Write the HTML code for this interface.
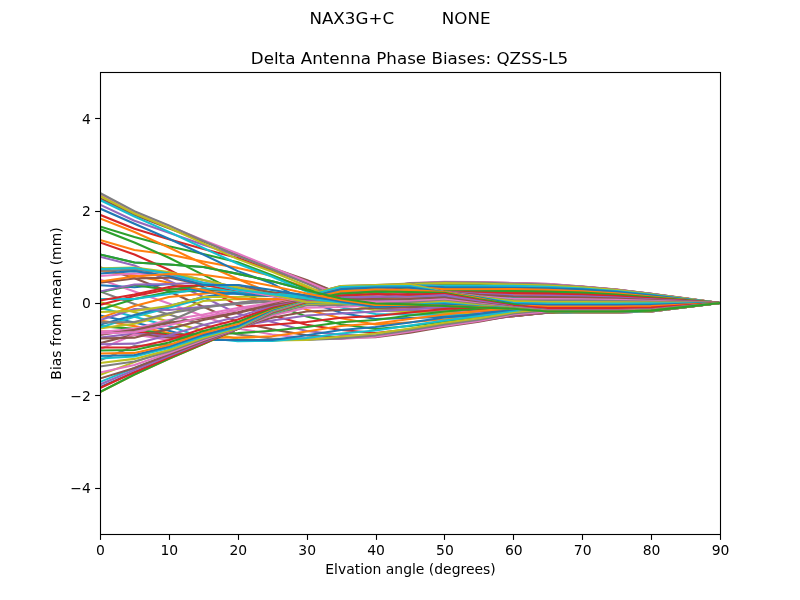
<!DOCTYPE html>
<html><head><meta charset="utf-8"><title>Delta Antenna Phase Biases</title>
<style>
html,body{margin:0;padding:0;background:#fff;}
svg{display:block;}
text{font-family:"DejaVu Sans","Liberation Sans",sans-serif;fill:#000;}
.t12{font-size:16.72px;}
.t10{font-size:13.93px;}
.ln{fill:none;stroke-width:2.083;stroke-linecap:square;stroke-linejoin:round;}
.tk{stroke:#000;stroke-width:1.111;}
</style></head>
<body>
<svg width="800" height="600" viewBox="0 0 800 600">
<rect width="800" height="600" fill="#fff"/>
<defs><clipPath id="c"><rect x="100.0" y="72.0" width="620.0" height="462.0"/></clipPath></defs>
<g clip-path="url(#c)">
<polyline class="ln" stroke="#1f77b4" points="100.00,254.49 134.44,262.48 168.89,264.52 203.33,266.96 237.78,273.89 272.22,281.29 306.67,290.29 341.11,298.52 375.56,303.46 410.00,304.39 444.44,306.00 478.89,307.48 513.33,308.73 547.78,311.55 582.22,311.55 616.67,311.55 651.11,310.61 685.56,306.85 720.00,303.00"/>
<polyline class="ln" stroke="#ff7f0e" points="100.00,239.98 134.44,250.01 168.89,254.49 203.33,261.42 237.78,267.89 272.22,276.02 306.67,287.52 341.11,296.82 375.56,303.79 410.00,305.00 444.44,306.50 478.89,308.17 513.33,309.59 547.78,311.75 582.22,311.84 616.67,311.84 651.11,310.87 685.56,306.98 720.00,303.00"/>
<polyline class="ln" stroke="#2ca02c" points="100.00,226.49 134.44,236.93 168.89,246.17 203.33,254.03 237.78,262.34 272.22,275.28 306.67,289.14 341.11,297.46 375.56,304.39 410.00,305.78 444.44,307.16 478.89,309.19 513.33,310.85 547.78,312.15 582.22,312.24 616.67,312.24 651.11,311.22 685.56,307.16 720.00,303.00"/>
<polyline class="ln" stroke="#d62728" points="100.00,214.76 134.44,228.80 168.89,239.24 203.33,248.95 237.78,257.96 272.22,270.43 306.67,282.67 341.11,294.31 375.56,305.02 410.00,306.63 444.44,307.81 478.89,310.08 513.33,311.79 547.78,312.24 582.22,312.43 616.67,312.43 651.11,311.39 685.56,307.24 720.00,303.00"/>
<polyline class="ln" stroke="#9467bd" points="100.00,204.59 134.44,220.81 168.89,232.78 203.33,244.79 237.78,255.88 272.22,268.81 306.67,281.29 341.11,293.76 375.56,305.77 410.00,307.36 444.44,308.54 478.89,311.04 513.33,312.70 547.78,312.24 582.22,312.52 616.67,312.52 651.11,311.47 685.56,307.28 720.00,303.00"/>
<polyline class="ln" stroke="#8c564b" points="100.00,198.13 134.44,214.99 168.89,228.16 203.33,241.55 237.78,254.49 272.22,267.89 306.67,279.99 341.11,294.17 375.56,306.62 410.00,308.21 444.44,309.39 478.89,311.97 513.33,313.70 547.78,312.50 582.22,312.52 616.67,312.52 651.11,311.47 685.56,307.28 720.00,303.00"/>
<polyline class="ln" stroke="#e377c2" points="100.00,194.43 134.44,211.99 168.89,225.85 203.33,240.17 237.78,253.57 272.22,267.52 306.67,281.52 341.11,296.07 375.56,307.62 410.00,309.22 444.44,310.39 478.89,312.89 513.33,314.55 547.78,312.68 582.22,312.52 616.67,312.52 651.11,311.47 685.56,307.28 720.00,303.00"/>
<polyline class="ln" stroke="#7f7f7f" points="100.00,193.04 134.44,211.20 168.89,225.38 203.33,240.86 237.78,255.88 272.22,269.27 306.67,283.60 341.11,298.76 375.56,308.76 410.00,310.47 444.44,311.66 478.89,313.77 513.33,315.09 547.78,312.66 582.22,312.42 616.67,312.42 651.11,311.39 685.56,307.24 720.00,303.00"/>
<polyline class="ln" stroke="#bcbd22" points="100.00,196.00 134.44,213.51 168.89,227.69 203.33,243.40 237.78,259.11 272.22,271.81 306.67,286.00 341.11,301.87 375.56,310.39 410.00,312.09 444.44,313.16 478.89,314.63 513.33,315.47 547.78,312.52 582.22,312.24 616.67,312.24 651.11,311.22 685.56,307.16 720.00,303.00"/>
<polyline class="ln" stroke="#17becf" points="100.00,199.97 134.44,216.51 168.89,231.85 203.33,248.02 237.78,263.73 272.22,276.67 306.67,291.45 341.11,307.48 375.56,314.00 410.00,314.55 444.44,314.89 478.89,315.43 513.33,315.74 547.78,312.81 582.22,312.04 616.67,312.04 651.11,311.05 685.56,307.07 720.00,303.00"/>
<polyline class="ln" stroke="#1f77b4" points="100.00,208.52 134.44,223.81 168.89,238.78 203.33,254.49 237.78,271.12 272.22,283.60 306.67,301.61 341.11,312.79 375.56,318.99 410.00,318.08 444.44,316.86 478.89,316.43 513.33,315.94 547.78,312.83 582.22,311.78 616.67,311.78 651.11,310.81 685.56,306.95 720.00,303.00"/>
<polyline class="ln" stroke="#ff7f0e" points="100.00,218.45 134.44,231.99 168.89,247.56 203.33,263.73 237.78,278.98 272.22,293.76 306.67,309.70 341.11,318.25 375.56,324.48 410.00,322.31 444.44,319.17 478.89,317.61 513.33,316.09 547.78,312.69 582.22,311.38 616.67,311.38 651.11,310.46 685.56,306.77 720.00,303.00"/>
<polyline class="ln" stroke="#2ca02c" points="100.00,229.08 134.44,242.48 168.89,257.72 203.33,274.82 237.78,292.14 272.22,304.39 306.67,316.40 341.11,324.21 375.56,329.01 410.00,326.02 444.44,321.48 478.89,318.71 513.33,316.17 547.78,312.52 582.22,310.85 616.67,310.85 651.11,309.99 685.56,306.53 720.00,303.00"/>
<polyline class="ln" stroke="#d62728" points="100.00,242.48 134.44,254.49 168.89,269.74 203.33,287.29 237.78,305.31 272.22,315.61 306.67,324.71 341.11,329.98 375.56,333.03 410.00,329.27 444.44,323.44 478.89,319.87 513.33,316.10 547.78,312.54 582.22,310.22 616.67,310.22 651.11,309.43 685.56,306.25 720.00,303.00"/>
<polyline class="ln" stroke="#9467bd" points="100.00,256.80 134.44,265.49 168.89,280.82 203.33,296.99 237.78,313.63 272.22,321.94 306.67,331.00 341.11,334.88 375.56,335.80 410.00,331.41 444.44,325.18 478.89,320.92 513.33,315.94 547.78,312.47 582.22,309.47 616.67,309.47 651.11,308.76 685.56,305.91 720.00,303.00"/>
<polyline class="ln" stroke="#8c564b" points="100.00,267.19 134.44,278.28 168.89,291.45 203.33,306.70 237.78,321.94 272.22,329.38 306.67,335.34 341.11,337.65 375.56,337.19 410.00,332.65 444.44,326.65 478.89,321.71 513.33,315.41 547.78,312.18 582.22,308.58 616.67,308.58 651.11,307.96 685.56,305.51 720.00,303.00"/>
<polyline class="ln" stroke="#e377c2" points="100.00,279.44 134.44,291.45 168.89,303.46 203.33,315.94 237.78,328.41 272.22,334.42 306.67,338.11 341.11,339.04 375.56,336.73 410.00,331.51 444.44,326.01 478.89,321.02 513.33,314.55 547.78,311.78 582.22,307.62 616.67,307.62 651.11,307.11 685.56,305.08 720.00,303.00"/>
<polyline class="ln" stroke="#7f7f7f" points="100.00,291.45 134.44,303.92 168.89,314.55 203.33,324.71 237.78,334.42 272.22,338.57 306.67,339.96 341.11,338.57 375.56,335.34 410.00,330.26 444.44,324.48 478.89,319.63 513.33,313.49 547.78,310.23 582.22,306.70 616.67,306.70 651.11,306.29 685.56,304.66 720.00,303.00"/>
<polyline class="ln" stroke="#bcbd22" points="100.00,302.08 134.44,312.24 168.89,321.48 203.33,330.72 237.78,339.04 272.22,340.42 306.67,339.96 341.11,336.50 375.56,333.49 410.00,328.50 444.44,322.77 478.89,318.25 513.33,312.24 547.78,308.60 582.22,305.77 616.67,305.77 651.11,305.47 685.56,304.25 720.00,303.00"/>
<polyline class="ln" stroke="#17becf" points="100.00,307.62 134.44,316.86 168.89,326.10 203.33,337.65 237.78,341.25 272.22,340.88 306.67,338.02 341.11,333.49 375.56,330.49 410.00,325.50 444.44,320.51 478.89,315.94 513.33,310.89 547.78,306.94 582.22,304.85 616.67,304.85 651.11,304.64 685.56,303.83 720.00,303.00"/>
<polyline class="ln" stroke="#1f77b4" points="100.00,315.47 134.44,322.40 168.89,330.72 203.33,339.96 237.78,339.96 272.22,339.96 306.67,335.34 341.11,329.98 375.56,327.02 410.00,322.50 444.44,317.51 478.89,313.86 513.33,309.47 547.78,305.88 582.22,303.92 616.67,303.92 651.11,303.82 685.56,303.42 720.00,303.00"/>
<polyline class="ln" stroke="#ff7f0e" points="100.00,320.56 134.44,326.10 168.89,333.03 203.33,337.65 237.78,337.51 272.22,336.26 306.67,331.51 341.11,326.01 375.56,323.51 410.00,318.99 444.44,314.50 478.89,310.99 513.33,308.08 547.78,304.84 582.22,303.01 616.67,303.01 651.11,303.01 685.56,303.00 720.00,303.00"/>
<polyline class="ln" stroke="#2ca02c" points="100.00,326.10 134.44,328.87 168.89,334.42 203.33,334.42 237.78,333.12 272.22,330.72 306.67,327.02 341.11,322.22 375.56,320.00 410.00,315.47 444.44,311.50 478.89,308.54 513.33,306.70 547.78,303.84 582.22,302.16 616.67,302.31 651.11,302.53 685.56,302.76 720.00,303.00"/>
<polyline class="ln" stroke="#d62728" points="100.00,331.64 134.44,331.64 168.89,335.34 203.33,334.42 237.78,327.25 272.22,324.71 306.67,321.94 341.11,317.78 375.56,315.94 410.00,312.52 444.44,309.01 478.89,306.79 513.33,305.31 547.78,302.82 582.22,301.29 616.67,301.60 651.11,302.04 685.56,302.52 720.00,303.00"/>
<polyline class="ln" stroke="#9467bd" points="100.00,337.65 134.44,333.49 168.89,336.26 203.33,336.26 237.78,326.10 272.22,320.56 306.67,315.47 341.11,313.49 375.56,311.50 410.00,309.47 444.44,306.70 478.89,305.14 513.33,303.92 547.78,301.77 582.22,300.39 616.67,300.87 651.11,301.54 685.56,302.27 720.00,303.00"/>
<polyline class="ln" stroke="#8c564b" points="100.00,343.19 134.44,334.42 168.89,337.65 203.33,338.11 237.78,327.02 272.22,317.78 306.67,311.50 341.11,309.93 375.56,307.99 410.00,307.16 444.44,304.79 478.89,303.66 513.33,302.54 547.78,300.67 582.22,299.45 616.67,300.10 651.11,301.01 685.56,302.01 720.00,303.00"/>
<polyline class="ln" stroke="#e377c2" points="100.00,349.20 134.44,334.42 168.89,339.96 203.33,339.50 237.78,327.95 272.22,315.47 306.67,307.62 341.11,307.02 375.56,305.31 410.00,304.69 444.44,303.00 478.89,302.09 513.33,301.15 547.78,299.54 582.22,298.47 616.67,299.29 651.11,300.46 685.56,301.73 720.00,303.00"/>
<polyline class="ln" stroke="#7f7f7f" points="100.00,360.29 134.44,345.97 168.89,344.58 203.33,340.88 237.78,328.41 272.22,314.09 306.67,305.31 341.11,304.85 375.56,303.48 410.00,302.52 444.44,301.09 478.89,300.43 513.33,299.77 547.78,298.41 582.22,297.47 616.67,298.48 651.11,299.91 685.56,301.45 720.00,303.00"/>
<polyline class="ln" stroke="#bcbd22" points="100.00,374.98 134.44,362.14 168.89,350.12 203.33,341.81 237.78,328.87 272.22,313.16 306.67,303.92 341.11,303.30 375.56,302.08 410.00,300.59 444.44,299.30 478.89,298.82 513.33,298.38 547.78,297.28 582.22,296.49 616.67,297.67 651.11,299.35 685.56,301.18 720.00,303.00"/>
<polyline class="ln" stroke="#17becf" points="100.00,382.00 134.44,368.00 168.89,354.74 203.33,342.73 237.78,328.87 272.22,312.89 306.67,303.28 341.11,302.28 375.56,300.98 410.00,299.20 444.44,297.77 478.89,297.34 513.33,296.97 547.78,296.10 582.22,295.49 616.67,296.85 651.11,298.79 685.56,300.90 720.00,303.00"/>
<polyline class="ln" stroke="#1f77b4" points="100.00,387.08 134.44,372.30 168.89,357.98 203.33,343.19 237.78,328.87 272.22,312.70 306.67,302.81 341.11,301.43 375.56,300.05 410.00,297.98 444.44,296.36 478.89,295.90 513.33,295.55 547.78,294.89 582.22,294.47 616.67,296.02 651.11,298.22 685.56,300.61 720.00,303.00"/>
<polyline class="ln" stroke="#ff7f0e" points="100.00,392.17 134.44,374.61 168.89,358.90 203.33,343.98 237.78,328.87 272.22,312.47 306.67,302.44 341.11,300.83 375.56,299.22 410.00,296.85 444.44,295.03 478.89,294.50 513.33,294.15 547.78,293.72 582.22,293.49 616.67,295.22 651.11,297.67 685.56,300.34 720.00,303.00"/>
<polyline class="ln" stroke="#2ca02c" points="100.00,391.98 134.44,374.52 168.89,358.90 203.33,343.98 237.78,328.87 272.22,312.24 306.67,302.08 341.11,300.23 375.56,298.38 410.00,295.75 444.44,293.76 478.89,293.16 513.33,292.84 547.78,292.66 582.22,292.58 616.67,294.47 651.11,297.16 685.56,300.08 720.00,303.00"/>
<polyline class="ln" stroke="#d62728" points="100.00,388.01 134.44,372.21 168.89,357.52 203.33,343.19 237.78,328.87 272.22,312.00 306.67,301.70 341.11,299.62 375.56,297.53 410.00,294.65 444.44,292.52 478.89,291.86 513.33,291.58 547.78,291.62 582.22,291.72 616.67,293.78 651.11,296.69 685.56,299.84 720.00,303.00"/>
<polyline class="ln" stroke="#9467bd" points="100.00,384.50 134.44,369.99 168.89,355.99 203.33,342.27 237.78,328.87 272.22,311.78 306.67,301.36 341.11,299.03 375.56,296.70 410.00,293.60 444.44,291.33 478.89,290.65 513.33,290.37 547.78,290.51 582.22,290.91 616.67,293.11 651.11,296.23 685.56,299.61 720.00,303.00"/>
<polyline class="ln" stroke="#8c564b" points="100.00,378.49 134.44,368.00 168.89,354.51 203.33,341.35 237.78,328.70 272.22,311.58 306.67,301.03 341.11,298.47 375.56,295.91 410.00,292.59 444.44,290.20 478.89,289.51 513.33,289.24 547.78,289.49 582.22,290.16 616.67,292.50 651.11,295.81 685.56,299.41 720.00,303.00"/>
<polyline class="ln" stroke="#e377c2" points="100.00,372.48 134.44,365.00 168.89,352.90 203.33,339.96 237.78,328.41 272.22,311.32 306.67,300.69 341.11,297.92 375.56,295.15 410.00,291.62 444.44,289.14 478.89,288.48 513.33,288.22 547.78,288.60 582.22,289.54 616.67,291.99 651.11,295.46 685.56,299.23 720.00,303.00"/>
<polyline class="ln" stroke="#7f7f7f" points="100.00,366.48 134.44,361.49 168.89,351.51 203.33,339.04 237.78,328.22 272.22,310.88 306.67,300.33 341.11,297.37 375.56,294.41 410.00,290.70 444.44,288.13 478.89,287.52 513.33,287.29 547.78,287.81 582.22,289.02 616.67,291.56 651.11,295.17 685.56,299.08 720.00,303.00"/>
<polyline class="ln" stroke="#bcbd22" points="100.00,363.06 134.44,358.90 168.89,349.99 203.33,337.65 237.78,327.95 272.22,310.39 306.67,299.96 341.11,296.83 375.56,293.70 410.00,289.81 444.44,287.17 478.89,286.63 513.33,286.42 547.78,287.09 582.22,288.56 616.67,291.19 651.11,294.91 685.56,298.96 720.00,303.00"/>
<polyline class="ln" stroke="#17becf" points="100.00,358.44 134.44,356.50 168.89,348.00 203.33,336.26 237.78,327.02 272.22,309.92 306.67,299.61 341.11,296.32 375.56,293.02 410.00,288.96 444.44,286.27 478.89,285.81 513.33,285.64 547.78,286.45 582.22,288.16 616.67,290.86 651.11,294.69 685.56,298.84 720.00,303.00"/>
<polyline class="ln" stroke="#1f77b4" points="100.00,355.99 134.44,355.02 168.89,346.43 203.33,334.88 237.78,326.10 272.22,309.47 306.67,299.30 341.11,295.84 375.56,292.37 410.00,288.15 444.44,285.44 478.89,285.10 513.33,284.98 547.78,285.91 582.22,287.80 616.67,290.57 651.11,294.49 685.56,298.74 720.00,303.00"/>
<polyline class="ln" stroke="#ff7f0e" points="100.00,353.50 134.44,352.90 168.89,345.04 203.33,333.03 237.78,324.02 272.22,308.77 306.67,299.06 341.11,295.41 375.56,291.75 410.00,287.37 444.44,284.66 478.89,284.45 513.33,284.38 547.78,285.41 582.22,287.47 616.67,290.30 651.11,294.30 685.56,298.65 720.00,303.00"/>
<polyline class="ln" stroke="#2ca02c" points="100.00,350.49 134.44,349.99 168.89,342.50 203.33,331.00 237.78,321.94 272.22,308.08 306.67,298.84 341.11,294.85 375.56,291.16 410.00,286.62 444.44,283.91 478.89,283.84 513.33,283.82 547.78,284.95 582.22,287.16 616.67,290.05 651.11,294.13 685.56,298.57 720.00,303.00"/>
<polyline class="ln" stroke="#d62728" points="100.00,347.49 134.44,347.49 168.89,339.96 203.33,328.50 237.78,319.49 272.22,306.98 306.67,298.63 341.11,294.30 375.56,290.60 410.00,285.95 444.44,283.23 478.89,283.27 513.33,283.38 547.78,284.61 582.22,286.90 616.67,289.83 651.11,293.99 685.56,298.49 720.00,303.00"/>
<polyline class="ln" stroke="#9467bd" points="100.00,344.21 134.44,343.66 168.89,335.34 203.33,324.99 237.78,316.86 272.22,305.77 306.67,298.38 341.11,293.76 375.56,290.06 410.00,284.93 444.44,282.67 478.89,282.72 513.33,283.13 547.78,284.25 582.22,286.71 616.67,289.68 651.11,293.88 685.56,298.44 720.00,303.00"/>
<polyline class="ln" stroke="#8c564b" points="100.00,338.57 134.44,337.65 168.89,328.87 203.33,320.00 237.78,312.98 272.22,304.65 306.67,298.07 341.11,293.07 375.56,289.56 410.00,283.96 444.44,282.16 478.89,282.25 513.33,283.04 547.78,284.00 582.22,286.57 616.67,289.56 651.11,293.80 685.56,298.40 720.00,303.00"/>
<polyline class="ln" stroke="#e377c2" points="100.00,332.11 134.44,328.87 168.89,320.09 203.33,314.55 237.78,308.08 272.22,303.00 306.67,297.72 341.11,292.36 375.56,289.08 410.00,283.13 444.44,281.89 478.89,281.98 513.33,283.00 547.78,283.78 582.22,286.50 616.67,289.50 651.11,293.76 685.56,298.38 720.00,303.00"/>
<polyline class="ln" stroke="#7f7f7f" points="100.00,333.95 134.44,330.72 168.89,321.48 203.33,306.51 237.78,303.92 272.22,301.35 306.67,297.35 341.11,291.66 375.56,288.63 410.00,283.37 444.44,282.21 478.89,282.50 513.33,283.60 547.78,284.46 582.22,286.71 616.67,289.68 651.11,293.88 685.56,298.44 720.00,303.00"/>
<polyline class="ln" stroke="#bcbd22" points="100.00,328.41 134.44,323.79 168.89,314.55 203.33,301.01 237.78,298.98 272.22,299.30 306.67,296.99 341.11,290.99 375.56,288.22 410.00,284.06 444.44,283.13 478.89,283.51 513.33,284.52 547.78,285.44 582.22,287.28 616.67,290.14 651.11,294.20 685.56,298.60 720.00,303.00"/>
<polyline class="ln" stroke="#17becf" points="100.00,327.49 134.44,316.86 168.89,307.62 203.33,298.38 237.78,292.51 272.22,295.45 306.67,296.63 341.11,290.39 375.56,287.84 410.00,285.21 444.44,285.68 478.89,285.74 513.33,285.91 547.78,286.78 582.22,288.45 616.67,291.10 651.11,294.85 685.56,298.93 720.00,303.00"/>
<polyline class="ln" stroke="#1f77b4" points="100.00,324.71 134.44,315.01 168.89,306.00 203.33,296.99 237.78,291.45 272.22,294.30 306.67,296.27 341.11,289.80 375.56,287.50 410.00,286.37 444.44,287.29 478.89,287.43 513.33,287.75 547.78,288.33 582.22,289.36 616.67,291.85 651.11,295.36 685.56,299.18 720.00,303.00"/>
<polyline class="ln" stroke="#ff7f0e" points="100.00,318.01 134.44,306.00 168.89,296.99 203.33,293.76 237.78,290.02 272.22,292.97 306.67,295.92 341.11,289.23 375.56,287.17 410.00,286.39 444.44,289.37 478.89,289.26 513.33,289.14 547.78,289.84 582.22,291.27 616.67,293.41 651.11,296.43 685.56,299.72 720.00,303.00"/>
<polyline class="ln" stroke="#2ca02c" points="100.00,309.47 134.44,298.98 168.89,291.91 203.33,290.53 237.78,289.14 272.22,292.37 306.67,295.61 341.11,288.68 375.56,286.83 410.00,286.37 444.44,291.45 478.89,291.22 513.33,290.99 547.78,291.52 582.22,292.66 616.67,294.55 651.11,297.21 685.56,300.11 720.00,303.00"/>
<polyline class="ln" stroke="#d62728" points="100.00,304.85 134.44,296.07 168.89,289.14 203.33,289.14 237.78,290.06 272.22,292.69 306.67,295.31 341.11,287.99 375.56,286.47 410.00,285.91 444.44,291.76 478.89,292.65 513.33,293.30 547.78,293.85 582.22,294.53 616.67,296.07 651.11,298.26 685.56,300.63 720.00,303.00"/>
<polyline class="ln" stroke="#9467bd" points="100.00,320.09 134.44,309.01 168.89,309.93 203.33,306.70 237.78,303.00 272.22,299.00 306.67,295.01 341.11,287.29 375.56,286.10 410.00,285.44 444.44,291.91 478.89,293.85 513.33,295.15 547.78,295.65 582.22,296.23 616.67,297.46 651.11,299.21 685.56,301.10 720.00,303.00"/>
<polyline class="ln" stroke="#8c564b" points="100.00,334.88 134.44,329.80 168.89,322.87 203.33,318.25 237.78,312.24 272.22,303.51 306.67,294.78 341.11,286.78 375.56,285.75 410.00,285.00 444.44,292.04 478.89,294.74 513.33,296.53 547.78,296.98 582.22,297.53 616.67,298.52 651.11,299.94 685.56,301.47 720.00,303.00"/>
<polyline class="ln" stroke="#e377c2" points="100.00,333.49 134.44,332.11 168.89,325.18 203.33,316.86 237.78,309.93 272.22,302.31 306.67,294.68 341.11,286.37 375.56,285.44 410.00,284.52 444.44,292.14 478.89,296.35 513.33,298.98 547.78,298.98 582.22,299.22 616.67,299.91 651.11,300.88 685.56,301.94 720.00,303.00"/>
<polyline class="ln" stroke="#7f7f7f" points="100.00,322.40 134.44,321.94 168.89,313.16 203.33,307.62 237.78,303.00 272.22,298.91 306.67,294.82 341.11,286.10 375.56,285.15 410.00,283.60 444.44,292.29 478.89,297.11 513.33,300.23 547.78,300.50 582.22,300.61 616.67,301.05 651.11,301.66 685.56,302.33 720.00,303.00"/>
<polyline class="ln" stroke="#bcbd22" points="100.00,312.01 134.44,310.85 168.89,306.00 203.33,296.99 237.78,296.99 272.22,296.07 306.67,295.15 341.11,286.00 375.56,284.98 410.00,284.06 444.44,292.37 478.89,297.13 513.33,301.15 547.78,301.98 582.22,302.04 616.67,302.22 651.11,302.46 685.56,302.73 720.00,303.00"/>
<polyline class="ln" stroke="#17becf" points="100.00,298.98 134.44,298.98 168.89,293.99 203.33,288.22 237.78,291.22 272.22,293.64 306.67,296.07 341.11,287.06 375.56,286.37 410.00,286.00 444.44,292.37 478.89,297.49 513.33,302.77 547.78,303.46 582.22,303.46 616.67,303.46 651.11,303.41 685.56,303.21 720.00,303.00"/>
<polyline class="ln" stroke="#1f77b4" points="100.00,285.21 134.44,287.29 168.89,284.06 203.33,291.91 237.78,293.99 272.22,296.19 306.67,298.38 341.11,289.14 375.56,287.52 410.00,287.52 444.44,292.37 478.89,297.46 513.33,303.92 547.78,304.99 582.22,304.99 616.67,304.99 651.11,304.77 685.56,303.89 720.00,303.00"/>
<polyline class="ln" stroke="#ff7f0e" points="100.00,270.66 134.44,275.51 168.89,282.67 203.33,290.06 237.78,298.98 272.22,299.14 306.67,299.30 341.11,291.31 375.56,289.51 410.00,290.06 444.44,292.14 478.89,298.38 513.33,305.31 547.78,306.51 582.22,306.51 616.67,306.51 651.11,306.12 685.56,304.58 720.00,303.00"/>
<polyline class="ln" stroke="#2ca02c" points="100.00,292.10 134.44,284.98 168.89,290.06 203.33,284.98 237.78,290.06 272.22,295.15 306.67,300.23 341.11,293.48 375.56,291.45 410.00,292.00 444.44,292.84 478.89,299.30 513.33,304.39 547.78,310.39 582.22,309.93 616.67,309.93 651.11,309.17 685.56,306.12 720.00,303.00"/>
<polyline class="ln" stroke="#d62728" points="100.00,300.51 134.44,294.50 168.89,287.01 203.33,284.98 237.78,290.06 272.22,295.40 306.67,300.73 341.11,295.79 375.56,293.99 410.00,294.50 444.44,293.76 478.89,300.23 513.33,305.77 547.78,307.99 582.22,307.99 616.67,307.99 651.11,307.44 685.56,305.25 720.00,303.00"/>
<polyline class="ln" stroke="#9467bd" points="100.00,291.45 134.44,284.52 168.89,284.06 203.33,282.67 237.78,287.52 272.22,294.34 306.67,301.15 341.11,297.46 375.56,296.81 410.00,296.81 444.44,295.15 478.89,301.15 513.33,306.70 547.78,309.93 582.22,309.93 616.67,309.93 651.11,309.17 685.56,306.12 720.00,303.00"/>
<polyline class="ln" stroke="#8c564b" points="100.00,282.67 134.44,278.51 168.89,277.59 203.33,284.98 237.78,284.98 272.22,293.36 306.67,301.73 341.11,299.30 375.56,299.49 410.00,298.98 444.44,297.46 478.89,302.54 513.33,307.24 547.78,310.50 582.22,310.52 616.67,310.52 651.11,309.69 685.56,306.38 720.00,303.00"/>
<polyline class="ln" stroke="#e377c2" points="100.00,276.02 134.44,273.43 168.89,275.28 203.33,282.67 237.78,290.06 272.22,296.07 306.67,302.08 341.11,300.69 375.56,301.61 410.00,301.15 444.44,299.30 478.89,303.46 513.33,307.62 547.78,310.85 582.22,310.85 616.67,310.85 651.11,309.99 685.56,306.53 720.00,303.00"/>
<polyline class="ln" stroke="#7f7f7f" points="100.00,270.66 134.44,269.74 168.89,272.97 203.33,279.90 237.78,287.52 272.22,294.80 306.67,302.08 341.11,302.23 375.56,303.92 410.00,302.54 444.44,300.69 478.89,304.39 513.33,307.87 547.78,311.11 582.22,311.12 616.67,311.12 651.11,310.23 685.56,306.66 720.00,303.00"/>
<polyline class="ln" stroke="#bcbd22" points="100.00,268.35 134.44,267.43 168.89,272.05 203.33,279.90 237.78,287.52 272.22,294.80 306.67,302.08 341.11,303.30 375.56,305.31 410.00,303.92 444.44,301.61 478.89,305.31 513.33,308.08 547.78,311.32 582.22,311.32 616.67,311.32 651.11,310.40 685.56,306.74 720.00,303.00"/>
<polyline class="ln" stroke="#17becf" points="100.00,269.00 134.44,267.98 168.89,273.43 203.33,282.67 237.78,289.83 272.22,294.11 306.67,298.38 341.11,302.53 375.56,306.70 410.00,304.85 444.44,303.00 478.89,306.23 513.33,308.34 547.78,311.47 582.22,311.47 616.67,311.47 651.11,310.54 685.56,306.81 720.00,303.00"/>
<polyline class="ln" stroke="#1f77b4" points="100.00,273.43 134.44,271.12 168.89,275.97 203.33,284.98 237.78,284.98 272.22,290.03 306.67,295.61 341.11,301.53 375.56,306.70 410.00,305.31 444.44,304.39 478.89,306.70 513.33,308.54 547.78,311.55 582.22,311.55 616.67,311.55 651.11,310.61 685.56,306.85 720.00,303.00"/>
<polyline class="ln" stroke="#ff7f0e" points="100.00,281.52 134.44,276.48 168.89,273.99 203.33,274.82 237.78,279.44 272.22,285.92 306.67,293.48 341.11,300.00 375.56,304.99 410.00,304.62 444.44,305.77 478.89,307.16 513.33,308.63 547.78,311.51 582.22,311.55 616.67,311.55 651.11,310.61 685.56,306.85 720.00,303.00"/>
<polyline class="ln" stroke="#2ca02c" points="100.00,254.49 134.44,262.48 168.89,264.52 203.33,266.96 237.78,273.89 272.22,281.29 306.67,290.29 341.11,298.52 375.56,303.46 410.00,304.39 444.44,306.00 478.89,307.48 513.33,308.73 547.78,311.55 582.22,311.55 616.67,311.55 651.11,310.61 685.56,306.85 720.00,303.00"/>
</g>
<rect x="100.50" y="72.50" width="620.00" height="462.00" fill="none" stroke="#000" stroke-width="1.111" shape-rendering="auto"/>
<line class="tk" x1="100.50" y1="534.50" x2="100.50" y2="539.90"/><text class="t10" text-anchor="middle" x="100.50" y="554.60">0</text>
<line class="tk" x1="169.50" y1="534.50" x2="169.50" y2="539.90"/><text class="t10" text-anchor="middle" x="169.39" y="554.60">10</text>
<line class="tk" x1="238.50" y1="534.50" x2="238.50" y2="539.90"/><text class="t10" text-anchor="middle" x="238.28" y="554.60">20</text>
<line class="tk" x1="307.50" y1="534.50" x2="307.50" y2="539.90"/><text class="t10" text-anchor="middle" x="307.17" y="554.60">30</text>
<line class="tk" x1="376.50" y1="534.50" x2="376.50" y2="539.90"/><text class="t10" text-anchor="middle" x="376.06" y="554.60">40</text>
<line class="tk" x1="444.50" y1="534.50" x2="444.50" y2="539.90"/><text class="t10" text-anchor="middle" x="444.94" y="554.60">50</text>
<line class="tk" x1="513.50" y1="534.50" x2="513.50" y2="539.90"/><text class="t10" text-anchor="middle" x="513.83" y="554.60">60</text>
<line class="tk" x1="582.50" y1="534.50" x2="582.50" y2="539.90"/><text class="t10" text-anchor="middle" x="582.72" y="554.60">70</text>
<line class="tk" x1="651.50" y1="534.50" x2="651.50" y2="539.90"/><text class="t10" text-anchor="middle" x="651.61" y="554.60">80</text>
<line class="tk" x1="720.50" y1="534.50" x2="720.50" y2="539.90"/><text class="t10" text-anchor="middle" x="720.50" y="554.60">90</text>
<line class="tk" x1="95.10" y1="488.50" x2="100.50" y2="488.50"/><text class="t10" text-anchor="end" x="90.80" y="493.20">−4</text>
<line class="tk" x1="95.10" y1="395.50" x2="100.50" y2="395.50"/><text class="t10" text-anchor="end" x="90.80" y="400.80">−2</text>
<line class="tk" x1="95.10" y1="303.50" x2="100.50" y2="303.50"/><text class="t10" text-anchor="end" x="90.80" y="308.40">0</text>
<line class="tk" x1="95.10" y1="211.50" x2="100.50" y2="211.50"/><text class="t10" text-anchor="end" x="90.80" y="216.00">2</text>
<line class="tk" x1="95.10" y1="118.50" x2="100.50" y2="118.50"/><text class="t10" text-anchor="end" x="90.80" y="123.60">4</text>
<text class="t10" text-anchor="middle" x="410.5" y="574">Elvation angle (degrees)</text>
<text class="t10" text-anchor="middle" transform="translate(60.5,303.5) rotate(-90)">Bias from mean (mm)</text>
<text class="t12" text-anchor="middle" x="409.5" y="63.5">Delta Antenna Phase Biases: QZSS-L5</text>
<text class="t12" text-anchor="middle" x="400" y="24.3" xml:space="preserve">NAX3G+C         NONE</text>
</svg>
</body></html>
